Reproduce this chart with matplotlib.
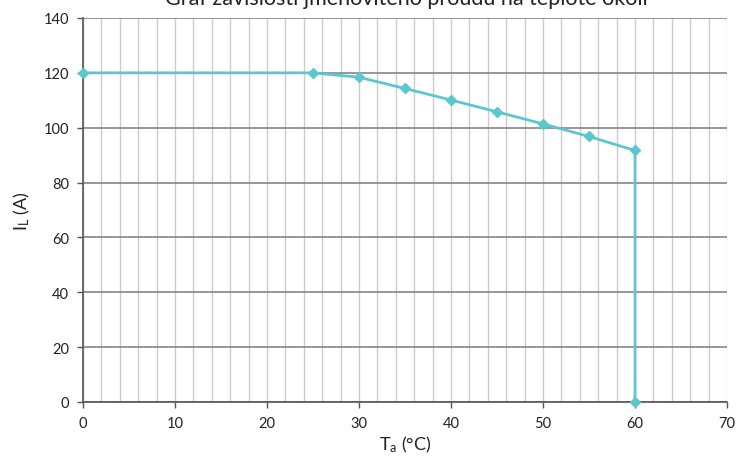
import matplotlib
matplotlib.use("Agg")
import matplotlib.pyplot as plt
from matplotlib.ticker import MultipleLocator

# -------------------------------
# Data
# -------------------------------
temp_c = [0, 25, 30, 35, 40, 45, 50, 55, 60, 60]
current_a = [120, 120, 118.4, 114.3, 110.1, 105.8, 101.4, 96.8, 91.7, 0]

title = "Graf závislosti jmenovitého proudu na teplotě okolí"
x_label = r"$\mathregular{T_a}$ (°C)"
y_label = r"$\mathregular{I_L}$ (A)"

# -------------------------------
# Style
# -------------------------------
plt.rcParams['font.family'] = ['Lato', 'DejaVu Sans']
plt.rcParams['mathtext.fontset'] = 'custom'
plt.rcParams['mathtext.rm'] = 'Lato'
plt.rcParams['mathtext.it'] = 'Lato'

line_color = "#5CC8CE"
text_color = "#222222"

fig = plt.figure(figsize=(7.36, 4.64), dpi=100)
ax = fig.add_axes([83 / 736, 1 - 403 / 464, (727 - 83) / 736, (403 - 19) / 464])

ax.plot(temp_c, current_a, color=line_color, lw=2, marker='D', ms=5,
        clip_on=False, zorder=5)

ax.set_xlim(0, 70)
ax.set_ylim(0, 140)
ax.xaxis.set_major_locator(MultipleLocator(10))
ax.xaxis.set_minor_locator(MultipleLocator(2))
ax.yaxis.set_major_locator(MultipleLocator(20))

# grid
ax.grid(which='minor', axis='x', color='#cccccc', lw=1)
ax.grid(which='major', axis='x', color='#cccccc', lw=1)
ax.grid(which='major', axis='y', color='#858585', lw=1.2)
ax.set_axisbelow(True)

for side in ['top', 'right']:
    ax.spines[side].set_visible(False)
for side in ['left', 'bottom']:
    ax.spines[side].set_color('#555555')
    ax.spines[side].set_linewidth(1.2)

ax.tick_params(axis='both', which='major', labelsize=10.5, colors='#555555',
               labelcolor=text_color, length=4, width=1, pad=6)
ax.tick_params(axis='x', which='minor', length=0)

ax.set_xlabel(x_label, fontsize=13, color=text_color, labelpad=3)
ax.set_ylabel(y_label, fontsize=13, color=text_color, labelpad=8)

# title sits partly above the canvas, as in the original
fig.text(0.552, 1 - 5 / 464, title, ha='center', va='baseline',
         fontsize=15.5, color=text_color)

fig.savefig("out.png", dpi=100)
